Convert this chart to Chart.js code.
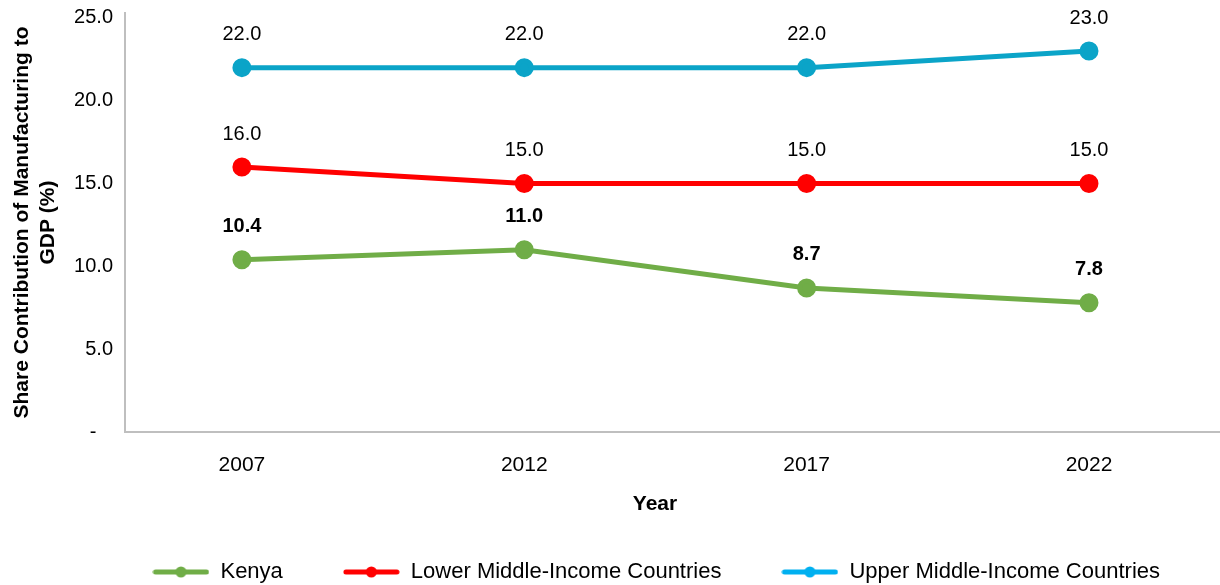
<!DOCTYPE html>
<html lang="en">
<head>
    <meta charset="UTF-8">
    <title>Share Contribution of Manufacturing to GDP</title>
    <script src="https://cdn.jsdelivr.net/npm/chart.js"></script>
    <style>
        html, body { margin: 0; padding: 0; background: #fff; }
        #wrap { width: 1220px; height: 585px; }
    </style>
</head>
<body>
    <div id="wrap"><canvas id="mfgChart" width="1220" height="585"></canvas></div>
    <script>
        // data
        const years = ['2007', '2012', '2017', '2022'];
        const kenya = [10.4, 11.0, 8.7, 7.8];
        const lowerMiddle = [16.0, 15.0, 15.0, 15.0];
        const upperMiddle = [22.0, 22.0, 22.0, 23.0];
        const yTicks = [0, 5, 10, 15, 20, 25];

        const FONT = '"Liberation Sans", Arial, sans-serif';

        // legend marker: short line with a dot in the middle
        function legendMarker(color) {
            const c = document.createElement('canvas');
            c.width = 57; c.height = 14;
            const g = c.getContext('2d');
            g.strokeStyle = color;
            g.lineWidth = 5;
            g.lineCap = 'round';
            g.beginPath(); g.moveTo(3, 7); g.lineTo(54, 7); g.stroke();
            g.fillStyle = color;
            g.beginPath(); g.arc(28.5, 7, 5.5, 0, Math.PI * 2); g.fill();
            return c;
        }

        const toPoints = arr => arr.map((v, i) => ({ x: i, y: v }));

        const series = [
            { label: 'Kenya', data: kenya, color: '#70AD47', legend: '#70AD47', bold: true },
            { label: 'Lower Middle-Income Countries', data: lowerMiddle, color: '#FF0000', legend: '#FF0000', bold: false },
            { label: 'Upper Middle-Income Countries', data: upperMiddle, color: '#0BA4C8', legend: '#00B0F0', bold: false }
        ];

        // simple value labels above each point
        const valueLabels = {
            id: 'valueLabels',
            afterDatasetsDraw(chart) {
                const ctx = chart.ctx;
                ctx.save();
                ctx.textAlign = 'center';
                ctx.textBaseline = 'middle';
                ctx.fillStyle = '#000';
                chart.data.datasets.forEach((ds, di) => {
                    const meta = chart.getDatasetMeta(di);
                    ctx.font = (series[di].bold ? 'bold ' : '') + '20px ' + FONT;
                    meta.data.forEach((pt, i) => {
                        ctx.fillText(ds.data[i].y.toFixed(1), pt.x, pt.y - 33);
                    });
                });
                ctx.restore();
            }
        };

        const ctx = document.getElementById('mfgChart').getContext('2d');
        const chart = new Chart(ctx, {
            type: 'line',
            data: {
                datasets: series.map(s => ({
                    label: s.label,
                    data: toPoints(s.data),
                    borderColor: s.color,
                    backgroundColor: s.color,
                    borderWidth: 5,
                    pointRadius: 7,
                    pointHoverRadius: 7,
                    pointStyle: 'circle',
                    tension: 0,
                    clip: false,
                    legendMarker: legendMarker(s.legend)
                }))
            },
            options: {
                responsive: false,
                animation: false,
                layout: { autoPadding: false, padding: { top: 13, right: 0, bottom: 0, left: 0 } },
                scales: {
                    x: {
                        type: 'linear',
                        min: -0.414,
                        max: 3.464,
                        afterBuildTicks: scale => { scale.ticks = years.map((_, i) => ({ value: i })); },
                        afterFit: scale => {
                            scale.height = 69;
                            scale.paddingLeft = 0;
                            scale.paddingRight = 0;
                        },
                        grid: { display: false, drawTicks: false },
                        border: { color: '#BFBFBF', width: 2 },
                        ticks: {
                            padding: 21,
                            color: '#000',
                            font: { family: FONT, size: 21 },
                            callback: v => years[v]
                        },
                        title: {
                            display: true,
                            text: 'Year      ',
                            color: '#000',
                            font: { family: FONT, size: 21, weight: 'bold' },
                            padding: { top: 0, bottom: -16 }
                        }
                    },
                    y: {
                        min: 0,
                        max: 25.3,
                        afterBuildTicks: scale => { scale.ticks = yTicks.map(v => ({ value: v })); },
                        afterFit: scale => {
                            scale.width = 125;
                            scale.paddingTop = 0;
                            scale.paddingBottom = 0;
                        },
                        grid: { display: false, drawTicks: false },
                        border: { color: '#BFBFBF', width: 2 },
                        ticks: {
                            padding: 12,
                            color: '#000',
                            font: { family: FONT, size: 20 },
                            callback: v => v === 0 ? '-   ' : v.toFixed(1)
                        },
                        title: {
                            display: true,
                            text: ['Share Contribution of Manufacturing to', 'GDP (%)'],
                            color: '#000',
                            font: { family: FONT, size: 21, weight: 'bold', lineHeight: 1.24 },
                            padding: { top: 9, bottom: 0 }
                        }
                    }
                },
                plugins: {
                    tooltip: { enabled: false },
                    legend: {
                        position: 'bottom',
                        align: 'end',
                        maxHeight: 84,
                        labels: {
                            usePointStyle: true,
                            pointStyleWidth: 57,
                            padding: 60,
                            color: '#000',
                            font: { family: FONT, size: 22 },
                            generateLabels: ch => ch.data.datasets.map((ds, i) => ({
                                text: ds.label,
                                pointStyle: ds.legendMarker,
                                fillStyle: ds.borderColor,
                                strokeStyle: ds.borderColor,
                                lineWidth: 0,
                                hidden: false,
                                datasetIndex: i,
                                fontColor: '#000'
                            }))
                        }
                    }
                }
            },
            plugins: [valueLabels]
        });
    </script>
</body>
</html>
